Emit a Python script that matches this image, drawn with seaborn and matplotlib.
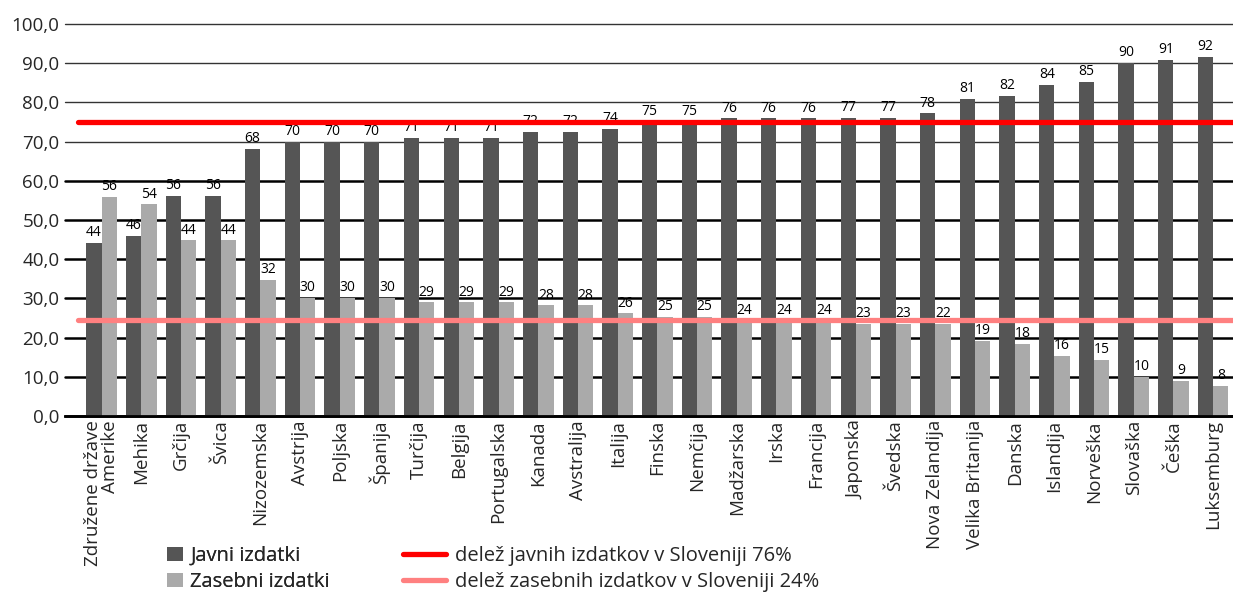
import numpy as np
import pandas as pd
import matplotlib
matplotlib.use("Agg")
import matplotlib.pyplot as plt
import seaborn as sns
from matplotlib.patches import Patch
from matplotlib.lines import Line2D

countries = ["Združene države\nAmerike", "Mehika", "Grčija", "Švica", "Nizozemska",
             "Avstrija", "Poljska", "Španija", "Turčija", "Belgija", "Portugalska",
             "Kanada", "Avstralija", "Italija", "Finska", "Nemčija", "Madžarska",
             "Irska", "Francija", "Japonska", "Švedska", "Nova Zelandija",
             "Velika Britanija", "Danska", "Islandija", "Norveška", "Slovaška",
             "Češka", "Luksemburg"]
javni = [44.1, 45.9, 56.1, 56.1, 68.1, 69.9, 69.9, 69.9, 70.9, 70.9, 70.9, 72.4,
         72.4, 73.3, 75.0, 75.0, 75.9, 75.9, 75.9, 76.1, 76.1, 77.2, 80.9, 81.6,
         84.4, 85.3, 90.1, 90.8, 91.7]
javni_labels = [44, 46, 56, 56, 68, 70, 70, 70, 71, 71, 71, 72, 72, 74, 75, 75, 76,
                76, 76, 77, 77, 78, 81, 82, 84, 85, 90, 91, 92]
zasebni = [55.9, 54.0, 44.8, 44.8, 34.7, 30.2, 30.2, 30.2, 29.0, 29.0, 29.0, 28.2,
           28.2, 26.2, 25.3, 25.3, 24.3, 24.3, 24.3, 23.5, 23.5, 23.5, 19.1, 18.3,
           15.4, 14.3, 9.9, 9.0, 7.7]
zasebni_labels = [56, 54, 44, 44, 32, 30, 30, 30, 29, 29, 29, 28, 28, 26, 25, 25, 24,
                  24, 24, 23, 23, 22, 19, 18, 16, 15, 10, 9, 8]
series_names = ["Javni izdatki", "Zasebni izdatki"]
line_values = [75.0, 24.5]
line_names = ["delež javnih izdatkov v Sloveniji 76%",
              "delež zasebnih izdatkov v Sloveniji 24%"]
yticks = [0, 10, 20, 30, 40, 50, 60, 70, 80, 90, 100]
ytick_labels = ["0,0", "10,0", "20,0", "30,0", "40,0", "50,0", "60,0", "70,0",
                "80,0", "90,0", "100,0"]

bar_colors = ["#555555", "#aaaaaa"]
line_colors = ["#ff0000", "#ff8080"]

df = pd.DataFrame({
    "country": countries * 2,
    "value": javni + zasebni,
    "type": [series_names[0]] * len(countries) + [series_names[1]] * len(countries),
})

sns.set_style("white")
plt.rcParams["font.family"] = ["Open Sans", "DejaVu Sans"]

fig = plt.figure(figsize=(12.33, 5.95), dpi=100)
ax = fig.add_axes([65 / 1233, 1 - 416 / 595, (1233 - 65) / 1233, (416 - 24) / 595])

sns.barplot(data=df, x="country", y="value", hue="type", palette=bar_colors,
            width=0.77, saturation=1, ax=ax, legend=False, gap=0,
            edgecolor="none", linewidth=0)

n = len(countries)
ax.set_xlim(-0.92, n - 0.5)
ax.set_ylim(0, 100)
ax.set_axisbelow(True)

ax.set_yticks(yticks)
ax.set_yticklabels(ytick_labels, fontsize=13.5)
ax.tick_params(axis="y", length=0, pad=4)
ax.yaxis.grid(True)
for gl, t in zip(ax.get_ygridlines(), yticks):
    if t <= 60:
        gl.set_color("black")
        gl.set_linewidth(1.8)
    else:
        gl.set_color("#333333")
        gl.set_linewidth(1.0)
    gl.set_clip_on(False)

ax.set_xticks(range(n))
ax.set_xticklabels(countries, rotation=90, fontsize=13.5, va="top", ha="center",
                   multialignment="right", linespacing=0.95)
ax.tick_params(axis="x", which="major", length=0, pad=3)
ax.set_xticks(np.arange(n + 1) - 0.5, minor=True)
ax.tick_params(axis="x", which="minor", length=15, width=2, color="black")
ax.set_xlabel("")
ax.set_ylabel("")

for s in ["top", "right", "left"]:
    ax.spines[s].set_visible(False)
ax.spines["bottom"].set_color("black")
ax.spines["bottom"].set_linewidth(2)

for cont, labs in zip(ax.containers, [javni_labels, zasebni_labels]):
    ax.bar_label(cont, labels=[str(v) for v in labs], padding=2, fontsize=10,
                 color="black", zorder=3)

xmin_frac = (78 - 65) / (1233 - 65)
for v, c in zip(line_values, line_colors):
    ax.axhline(v, xmin=xmin_frac, xmax=1, color=c, lw=3.8, zorder=5)

bar_handles = [Patch(facecolor=bar_colors[0], edgecolor="none"),
               Patch(facecolor=bar_colors[1], edgecolor="none")]
leg1 = fig.legend(bar_handles, series_names, loc="upper left",
                  bbox_to_anchor=(167 / 1233, 1 - 546 / 595), frameon=False,
                  fontsize=14.5, handlelength=0.8, handleheight=0.74,
                  handletextpad=0.36, labelspacing=0.3, borderpad=0,
                  borderaxespad=0)
line_handles = [Line2D([0], [0], color=line_colors[0], lw=3.8),
                Line2D([0], [0], color=line_colors[1], lw=3.8)]
leg2 = fig.legend(line_handles, line_names, loc="upper left",
                  bbox_to_anchor=(403 / 1233, 1 - 546 / 595), frameon=False,
                  fontsize=14.5, handlelength=2.14, handletextpad=0.45,
                  labelspacing=0.3, borderpad=0, borderaxespad=0)
fig.add_artist(leg1)

fig.savefig("out.png", dpi=100)
